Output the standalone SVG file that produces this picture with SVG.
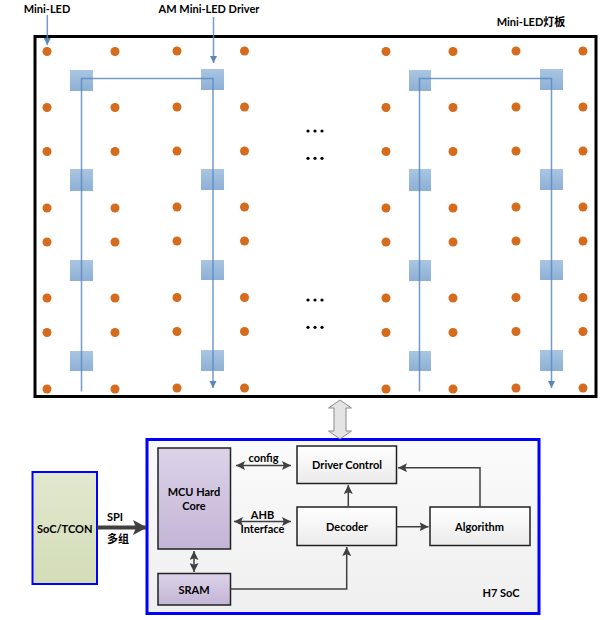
<svg xmlns="http://www.w3.org/2000/svg" width="607" height="620" viewBox="0 0 607 620">
<style>
.t{font-family:Lato,"Liberation Sans","Noto Sans CJK SC",sans-serif;font-weight:bold;font-size:11px;fill:#000;text-anchor:middle;dominant-baseline:central}
.led{fill:#D46B1D}
.drv{fill:url(#gBlue)}
.bl{stroke:#5B8BC2;stroke-width:1.5;fill:none;opacity:0.85}
.cn{stroke:#404040;stroke-width:1.5;fill:none}
.box{fill:url(#gGray);stroke:#222;stroke-width:1.5}
.pur{fill:url(#gPur);stroke:#222;stroke-width:1.5}
</style>
<defs>
<linearGradient id="gBlue" x1="0" y1="0" x2="0" y2="1"><stop offset="0" stop-color="#A9C5E2"/><stop offset="1" stop-color="#8DB0D5"/></linearGradient>
<linearGradient id="gGray" x1="0" y1="0" x2="0" y2="1"><stop offset="0" stop-color="#FFFFFF"/><stop offset="1" stop-color="#EBEBEB"/></linearGradient>
<linearGradient id="gSoc" x1="0" y1="0" x2="0" y2="1"><stop offset="0" stop-color="#FBFBFB"/><stop offset="1" stop-color="#EFEFEF"/></linearGradient>
<linearGradient id="gPur" x1="0" y1="0" x2="0" y2="1"><stop offset="0" stop-color="#DCD3E8"/><stop offset="1" stop-color="#C3B5D6"/></linearGradient>
<linearGradient id="gGreen" x1="0" y1="0" x2="0" y2="1"><stop offset="0" stop-color="#E2E8CF"/><stop offset="1" stop-color="#D3DDB6"/></linearGradient>
<marker id="aB" viewBox="0 0 10 10" refX="10" refY="5" markerWidth="5" markerHeight="5" orient="auto" markerUnits="strokeWidth"><path d="M0,0 L10,5 L0,10 z" fill="#3F72AE"/></marker>
<marker id="aG" viewBox="0 0 10 10" refX="10" refY="5" markerWidth="6" markerHeight="6" orient="auto-start-reverse" markerUnits="strokeWidth"><path d="M0,0 L10,5 L0,10 L2,5 z" fill="#404040"/></marker>
</defs>

<g id="panel">
<rect x="35" y="36.5" width="561" height="360" fill="#fff" stroke="#000" stroke-width="3"/>
<text class="t" x="531" y="21">Mini-LED灯板</text>
</g>

<g id="leds">
<g id="led-row1"><circle class="led" cx="47" cy="51.5" r="4.5"/><circle class="led" cx="115" cy="51.5" r="4.5"/><circle class="led" cx="177" cy="51" r="4.5"/><circle class="led" cx="244.5" cy="51" r="4.5"/><circle class="led" cx="386" cy="51.5" r="4.5"/><circle class="led" cx="453" cy="51.5" r="4.5"/><circle class="led" cx="516" cy="51" r="4.5"/><circle class="led" cx="583" cy="51" r="4.5"/></g>
<g id="led-row2"><circle class="led" cx="47" cy="107.5" r="4.5"/><circle class="led" cx="115" cy="107.5" r="4.5"/><circle class="led" cx="177" cy="107" r="4.5"/><circle class="led" cx="244.5" cy="107" r="4.5"/><circle class="led" cx="386" cy="107.5" r="4.5"/><circle class="led" cx="453" cy="107.5" r="4.5"/><circle class="led" cx="516" cy="107" r="4.5"/><circle class="led" cx="583" cy="107" r="4.5"/></g>
<g id="led-row3"><circle class="led" cx="47" cy="151.5" r="4.5"/><circle class="led" cx="115" cy="151.5" r="4.5"/><circle class="led" cx="177" cy="151" r="4.5"/><circle class="led" cx="244.5" cy="151" r="4.5"/><circle class="led" cx="386" cy="151.5" r="4.5"/><circle class="led" cx="453" cy="151.5" r="4.5"/><circle class="led" cx="516" cy="151" r="4.5"/><circle class="led" cx="583" cy="151" r="4.5"/></g>
<g id="led-row4"><circle class="led" cx="47" cy="208" r="4.5"/><circle class="led" cx="115" cy="208" r="4.5"/><circle class="led" cx="177" cy="207" r="4.5"/><circle class="led" cx="244.5" cy="207" r="4.5"/><circle class="led" cx="386" cy="208" r="4.5"/><circle class="led" cx="453" cy="208" r="4.5"/><circle class="led" cx="516" cy="207" r="4.5"/><circle class="led" cx="583" cy="207" r="4.5"/></g>
<g id="led-row5"><circle class="led" cx="47" cy="242" r="4.5"/><circle class="led" cx="115" cy="242" r="4.5"/><circle class="led" cx="177" cy="241" r="4.5"/><circle class="led" cx="244.5" cy="241" r="4.5"/><circle class="led" cx="386" cy="242" r="4.5"/><circle class="led" cx="453" cy="242" r="4.5"/><circle class="led" cx="516" cy="241" r="4.5"/><circle class="led" cx="583" cy="241" r="4.5"/></g>
<g id="led-row6"><circle class="led" cx="47" cy="298" r="4.5"/><circle class="led" cx="115" cy="298" r="4.5"/><circle class="led" cx="177" cy="297.5" r="4.5"/><circle class="led" cx="244.5" cy="297.5" r="4.5"/><circle class="led" cx="386" cy="298" r="4.5"/><circle class="led" cx="453" cy="298" r="4.5"/><circle class="led" cx="516" cy="297.5" r="4.5"/><circle class="led" cx="583" cy="297.5" r="4.5"/></g>
<g id="led-row7"><circle class="led" cx="47" cy="332.5" r="4.5"/><circle class="led" cx="115" cy="332.5" r="4.5"/><circle class="led" cx="177" cy="331.5" r="4.5"/><circle class="led" cx="244.5" cy="331.5" r="4.5"/><circle class="led" cx="386" cy="332.5" r="4.5"/><circle class="led" cx="453" cy="332.5" r="4.5"/><circle class="led" cx="516" cy="331.5" r="4.5"/><circle class="led" cx="583" cy="331.5" r="4.5"/></g>
<g id="led-row8"><circle class="led" cx="47" cy="389" r="4.5"/><circle class="led" cx="115" cy="389" r="4.5"/><circle class="led" cx="177" cy="388" r="4.5"/><circle class="led" cx="244.5" cy="388" r="4.5"/><circle class="led" cx="386" cy="389" r="4.5"/><circle class="led" cx="453" cy="389" r="4.5"/><circle class="led" cx="516" cy="388" r="4.5"/><circle class="led" cx="583" cy="388" r="4.5"/></g>
</g>

<g id="drivers">
<rect class="drv" x="70" y="70" width="23" height="21"/><rect class="drv" x="201" y="69" width="23" height="21"/><rect class="drv" x="409" y="70" width="22" height="21"/><rect class="drv" x="540" y="69" width="23" height="21"/>
<rect class="drv" x="70" y="169" width="23" height="22"/><rect class="drv" x="201" y="169" width="23" height="21"/><rect class="drv" x="409" y="169" width="22" height="22"/><rect class="drv" x="540" y="169" width="23" height="21"/>
<rect class="drv" x="70" y="260" width="23" height="21"/><rect class="drv" x="201" y="260" width="23" height="20"/><rect class="drv" x="409" y="260" width="22" height="21"/><rect class="drv" x="540" y="260" width="23" height="20"/>
<rect class="drv" x="70" y="351" width="23" height="20"/><rect class="drv" x="201" y="350" width="23" height="21"/><rect class="drv" x="409" y="351" width="22" height="20"/><rect class="drv" x="540" y="350" width="23" height="21"/>
</g>

<g id="ellipsis" fill="#000">
<circle cx="308" cy="131" r="1.6"/><circle cx="315" cy="131" r="1.6"/><circle cx="322" cy="131" r="1.6"/>
<circle cx="308" cy="158.3" r="1.6"/><circle cx="315" cy="158.3" r="1.6"/><circle cx="322" cy="158.3" r="1.6"/>
<circle cx="308" cy="300" r="1.6"/><circle cx="315" cy="300" r="1.6"/><circle cx="322" cy="300" r="1.6"/>
<circle cx="308" cy="327.3" r="1.6"/><circle cx="315" cy="327.3" r="1.6"/><circle cx="322" cy="327.3" r="1.6"/>
</g>

<g id="labels-top">
<text class="t" x="47" y="8">Mini-LED</text>
<text class="t" x="209" y="8">AM Mini-LED Driver</text>
</g>

<g id="soc-tcon">
<rect x="32.5" y="472" width="64.5" height="112" fill="url(#gGreen)" stroke="#0000FF" stroke-width="2"/>
<text class="t" x="64.7" y="528">SoC/TCON</text>
</g>

<g id="h7-soc">
<rect x="147" y="439.5" width="392" height="174" fill="url(#gSoc)" stroke="#0000FF" stroke-width="3"/>
<text class="t" x="501" y="592">H7 SoC</text>
</g>

<g id="mcu">
<rect class="pur" x="158" y="448" width="72.5" height="101"/>
<text class="t" x="194" y="491">MCU Hard</text>
<text class="t" x="194" y="505">Core</text>
</g>
<g id="sram">
<rect class="pur" x="158" y="573.5" width="72.5" height="31.5"/>
<text class="t" x="194" y="589">SRAM</text>
</g>
<g id="driver-control">
<rect class="box" x="297" y="446" width="99.5" height="37.5"/>
<text class="t" x="347" y="464">Driver Control</text>
</g>
<g id="decoder">
<rect class="box" x="297" y="507" width="99.5" height="38.5"/>
<text class="t" x="347" y="526">Decoder</text>
</g>
<g id="algorithm">
<rect class="box" x="430" y="507" width="100" height="38.5"/>
<text class="t" x="479.5" y="526">Algorithm</text>
</g>

<g id="connectors">
<path class="bl" d="M81.5,391.5 V78.5 H213 V388" marker-end="url(#aB)"/>
<path class="bl" d="M419.5,391.5 V78.5 H551.5 V388" marker-end="url(#aB)"/>
<path class="bl" d="M47.3,15 V45" marker-end="url(#aB)"/>
<path class="bl" d="M213.5,17 V63" marker-end="url(#aB)"/>

<path d="M340,400 L351.5,408 L346,408 L346,431 L351.5,431 L340,439 L328.5,431 L334,431 L334,408 L328.5,408 Z" fill="#E4E4E4" stroke="#8A8A8A" stroke-width="1"/>

<path d="M97,527.5 H146" stroke="#404040" stroke-width="4" fill="none"/>
<path d="M133,520 L147,527.5 L133,535 L136,527.5 Z" fill="#404040"/>
<text class="t" x="115" y="516">SPI</text>
<text class="t" x="118" y="538">多组</text>

<path class="cn" d="M236,465.5 H291" marker-start="url(#aG)" marker-end="url(#aG)"/>
<text class="t" x="263.5" y="457">config</text>
<path class="cn" d="M234,521.5 H291" marker-start="url(#aG)" marker-end="url(#aG)"/>
<text class="t" x="262.5" y="514">AHB</text>
<text class="t" x="262.5" y="528">Interface</text>
<path class="cn" d="M194,551 V572" marker-start="url(#aG)" marker-end="url(#aG)"/>
<path class="cn" d="M348.3,507 V485" marker-end="url(#aG)"/>
<path class="cn" d="M396.5,526.7 H428.5" marker-end="url(#aG)"/>
<path class="cn" d="M480,507 V467.7 H398" marker-end="url(#aG)"/>
<path class="cn" d="M230.5,589 H346.7 V547" marker-end="url(#aG)"/>
</g>
</svg>
